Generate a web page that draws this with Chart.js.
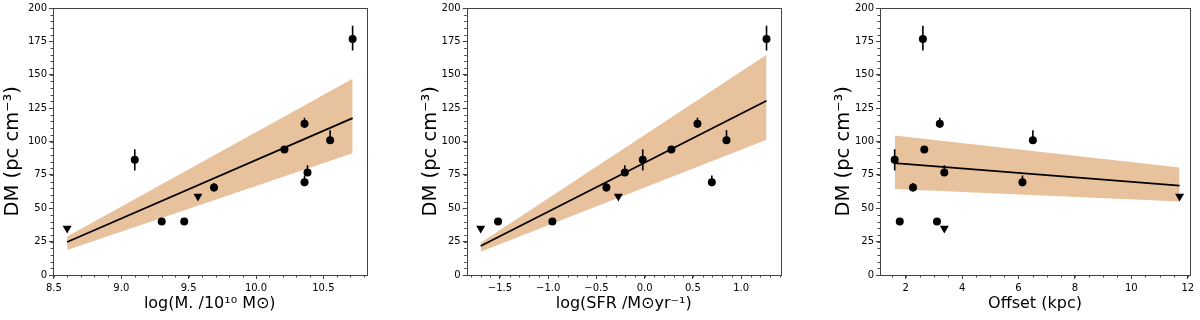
<!DOCTYPE html>
<html>
<head>
<meta charset="utf-8">
<script src="https://cdn.jsdelivr.net/npm/chart.js@4.4.0/dist/chart.umd.min.js"></script>
<style>
  body { margin: 0; background: #fff; }
  .wrap { position: relative; width: 1200px; height: 320px; }
  canvas { position: absolute; top: 0; }
</style>
</head>
<body>
<div class="wrap">
  <canvas id="massChart" width="400" height="320" style="left:0px"></canvas>
  <canvas id="sfrChart" width="400" height="320" style="left:400px"></canvas>
  <canvas id="offsetChart" width="400" height="320" style="left:800px"></canvas>
</div>
<script>
// DM of each host (same order in every panel), with asymmetric errors
const dm = [35, 40, 40, 59, 65.5, 69.5, 76.75, 86.25, 94, 101, 113.25, 176.75];
const dmErrLow = [0, 2.5, 2.5, 0, 3, 3, 2.5, 8, 2.5, 2.5, 3, 8.5];
const dmErrHigh = [0, 2.5, 2.5, 0, 3.5, 5, 5.5, 8, 2.5, 7.5, 4.5, 10];
const isUpperLimit = [true, false, false, true, false, false, false, false, false, false, false, false];

// x values per panel
const logMass = [8.598, 9.30, 9.467, 9.569, 9.688, 10.36, 10.382, 9.10, 10.211, 10.55, 10.36, 10.717];
const logSfr = [-1.70, -1.52, -0.957, -0.273, -0.397, 0.696, -0.206, -0.02, 0.277, 0.848, 0.547, 1.263];
const offsetKpc = [3.37, 1.79, 3.11, 11.71, 2.26, 6.14, 3.37, 1.61, 2.66, 6.51, 3.21, 2.61];

// fitted relation and its band (end points)
const massFitX = [8.598, 10.717];
const massFitY = [24.75, 117.5];
const massBandHigh = [28.75, 147];
const massBandLow = [18.75, 91.25];

const sfrFitX = [-1.70, 1.263];
const sfrFitY = [21.75, 130.5];
const sfrBandHigh = [24.25, 165];
const sfrBandLow = [17.5, 101.25];

const offsetFitX = [1.61, 11.71];
const offsetFitY = [83.75, 67];
const offsetBandHigh = [104.5, 80.5];
const offsetBandLow = [64.5, 55];

// tick labels
const dmTicks = [0, 25, 50, 75, 100, 125, 150, 175, 200];
const massTicks = [8.5, 9.0, 9.5, 10.0, 10.5];
const sfrTicks = [-1.5, -1.0, -0.5, 0.0, 0.5, 1.0];
const offsetTicks = [2, 4, 6, 8, 10, 12];

const FONT = 'DejaVu Sans';
const AXIS = '#444';
const BAND = 'rgb(232,194,157)';

Chart.defaults.font.family = FONT;
Chart.defaults.color = '#000';

const frame = {
  id: 'frame',
  afterDraw(chart) {
    const a = chart.chartArea, ctx = chart.ctx;
    ctx.save();
    ctx.strokeStyle = AXIS;
    ctx.lineWidth = 1;
    ctx.strokeRect(Math.round(a.left) + 0.5, Math.round(a.top) + 0.5,
      Math.round(a.right - a.left), Math.round(a.bottom - a.top));
    ctx.restore();
  }
};

const minorTicks = {
  id: 'minorTicks',
  afterDraw(chart, args, opts) {
    const ctx = chart.ctx, a = chart.chartArea, sx = chart.scales.x, sy = chart.scales.y;
    ctx.save();
    ctx.strokeStyle = AXIS;
    ctx.lineWidth = 1;
    ctx.beginPath();
    const n0 = Math.ceil(sx.min / opts.x - 1e-6);
    for (let i = n0; i * opts.x <= sx.max + 1e-9; i++) {
      const px = Math.round(sx.getPixelForValue(i * opts.x)) + 0.5;
      ctx.moveTo(px, a.bottom);
      ctx.lineTo(px, a.bottom + 2.5);
    }
    for (let i = 0; i * opts.y <= sy.max; i++) {
      const py = Math.round(sy.getPixelForValue(i * opts.y)) + 0.5;
      ctx.moveTo(a.left, py);
      ctx.lineTo(a.left - 2.5, py);
    }
    ctx.stroke();
    ctx.restore();
  }
};

const errorBars = {
  id: 'errorBars',
  afterDatasetsDraw(chart, args, opts) {
    const ctx = chart.ctx, sx = chart.scales.x, sy = chart.scales.y;
    ctx.save();
    ctx.strokeStyle = '#000';
    ctx.lineWidth = 1.6;
    ctx.beginPath();
    opts.xs.forEach((x, i) => {
      if (isUpperLimit[i]) return;
      const px = sx.getPixelForValue(x);
      ctx.moveTo(px, sy.getPixelForValue(dm[i] - dmErrLow[i]));
      ctx.lineTo(px, sy.getPixelForValue(dm[i] + dmErrHigh[i]));
    });
    ctx.stroke();
    ctx.restore();
  }
};

function pts(xs, ys) {
  return xs.map((x, i) => ({ x: x, y: ys[i] }));
}

function makePanel(id, p) {
  const circles = p.xs.map((x, i) => ({ x: x, y: dm[i] })).filter((d, i) => !isUpperLimit[i]);
  const triangles = p.xs.map((x, i) => ({ x: x, y: dm[i] })).filter((d, i) => isUpperLimit[i]);
  new Chart(document.getElementById(id), {
    type: 'scatter',
    data: {
      datasets: [
        // lower order is drawn on top
        { type: 'line', order: 5, data: pts(p.fitX, p.bandHigh), borderWidth: 0, pointRadius: 0,
          backgroundColor: BAND, fill: '+1' },
        { type: 'line', order: 4, data: pts(p.fitX, p.bandLow), borderWidth: 0, pointRadius: 0,
          fill: false },
        { type: 'line', order: 3, data: pts(p.fitX, p.fitY), borderColor: '#000', borderWidth: 1.8,
          pointRadius: 0, fill: false },
        { order: 1, data: circles, pointStyle: 'circle', pointRadius: 4, backgroundColor: '#000',
          borderColor: '#000', borderWidth: 0 },
        { order: 1, data: triangles, pointStyle: 'triangle', rotation: 180, pointRadius: 5.2,
          backgroundColor: '#000', borderColor: '#000', borderWidth: 0 }
      ]
    },
    options: {
      responsive: false,
      animation: false,
      devicePixelRatio: 1,
      layout: { padding: { left: 0, right: p.padRight, top: 8, bottom: 0 } },
      plugins: {
        legend: { display: false },
        tooltip: { enabled: false },
        minorTicks: { x: p.minor, y: 5 },
        errorBars: { xs: p.xs }
      },
      scales: {
        x: {
          type: 'linear', min: p.xMin, max: p.xMax,
          afterBuildTicks: s => { s.ticks = p.ticks.map(v => ({ value: v })); },
          afterFit: s => { s.height = 45; },
          grid: { drawOnChartArea: false, tickLength: 4, tickColor: AXIS },
          border: { display: false },
          ticks: { font: { size: 10 }, padding: 3, maxRotation: 0, autoSkip: false,
            callback: p.fmt },
          title: { display: true, text: p.title, font: { size: 16 }, padding: { top: 0, bottom: 7 } }
        },
        y: {
          min: 0, max: 200,
          afterBuildTicks: s => { s.ticks = dmTicks.map(v => ({ value: v })); },
          afterFit: s => { s.width = p.yWidth; },
          grid: { drawOnChartArea: false, tickLength: 4, tickColor: AXIS },
          border: { display: false },
          ticks: { font: { size: 10 }, padding: 2, autoSkip: false },
          // trailing em space nudges the label slightly below the axis centre, as in the source
          title: { display: true, text: 'DM (pc cm\u207B\u00B3)\u2003', font: { size: 19.5 },
            padding: { top: p.yTitlePad, bottom: 0 } }
        }
      }
    },
    plugins: [frame, minorTicks, errorBars]
  });
}

makePanel('massChart', {
  xs: logMass, fitX: massFitX, fitY: massFitY, bandHigh: massBandHigh, bandLow: massBandLow,
  xMin: 8.493, xMax: 10.82, ticks: massTicks, minor: 0.1, fmt: v => v.toFixed(1),
  title: 'log(M. /10\u00B9\u2070 M\u2299)', yWidth: 53, padRight: 33.5, yTitlePad: 1
});
makePanel('sfrChart', {
  xs: logSfr, fitX: sfrFitX, fitY: sfrFitY, bandHigh: sfrBandHigh, bandLow: sfrBandLow,
  xMin: -1.845, xMax: 1.41, ticks: sfrTicks, minor: 0.1,
  fmt: v => v.toFixed(1).replace('-', '\u2212'),
  title: 'log(SFR /M\u2299yr\u207B\u00B9)', yWidth: 66.7, padRight: 19.3, yTitlePad: 19
});
makePanel('offsetChart', {
  xs: offsetKpc, fitX: offsetFitX, fitY: offsetFitY, bandHigh: offsetBandHigh, bandLow: offsetBandLow,
  xMin: 1.09, xMax: 12.08, ticks: offsetTicks, minor: 0.5, fmt: v => String(v),
  title: 'Offset (kpc)', yWidth: 80, padRight: 10, yTitlePad: 32
});
</script>
</body>
</html>
